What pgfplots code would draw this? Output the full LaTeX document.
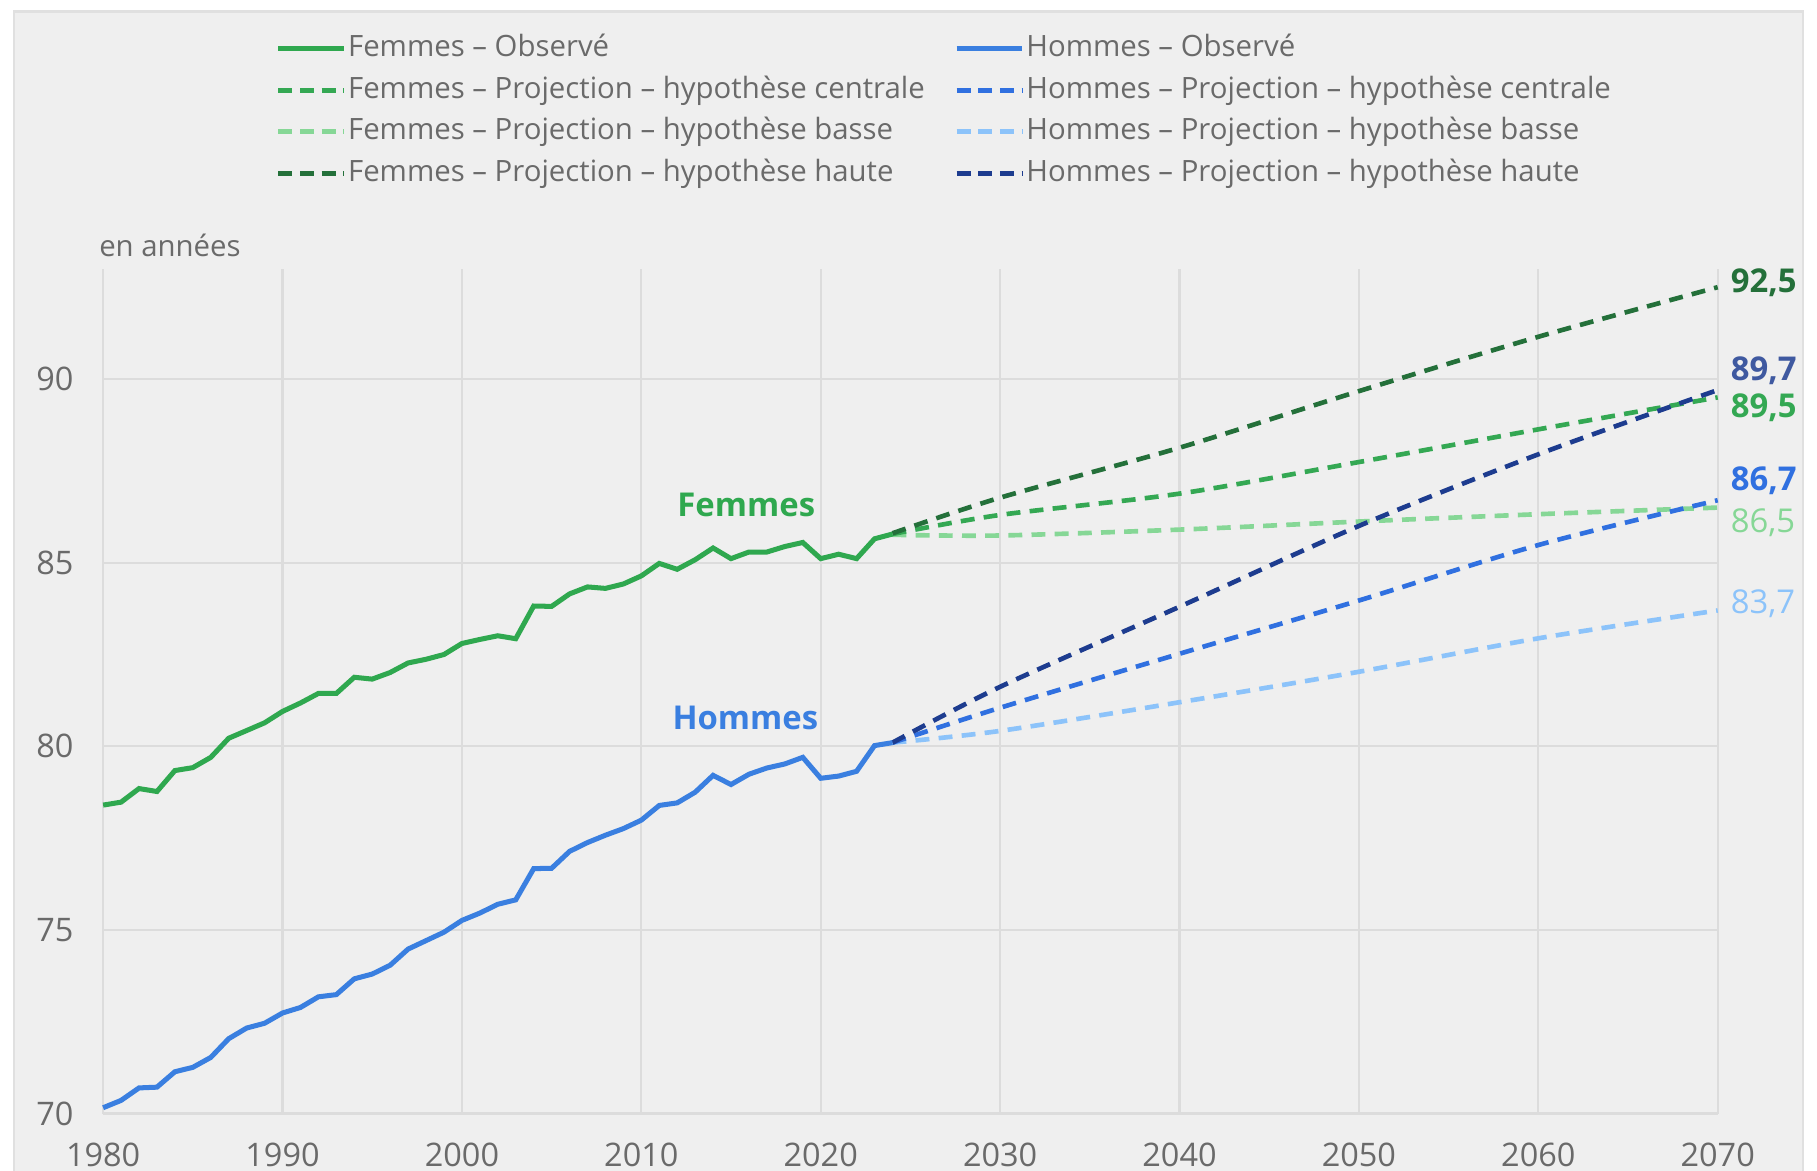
\documentclass[border=0pt]{standalone}
\usepackage{pgfplots}
\pgfplotsset{compat=1.18}
\usepackage{fontspec}
\setmainfont{Open Sans}
\definecolor{bgcol}{HTML}{EFEFEF}
\definecolor{bordcol}{HTML}{E0E0E0}
\definecolor{gridcol}{HTML}{DCDCDC}
\definecolor{txtgray}{HTML}{6A6A6A}
\definecolor{fobs}{HTML}{2FA84F}
\definecolor{fcen}{HTML}{34A853}
\definecolor{fbas}{HTML}{86D796}
\definecolor{fhau}{HTML}{24703A}
\definecolor{hobs}{HTML}{3A7FE0}
\definecolor{hcen}{HTML}{3070E0}
\definecolor{hbas}{HTML}{8CC3FA}
\definecolor{hhau}{HTML}{1D3C8F}

\pgfplotstableread{
year f h
1980 78.40 70.16
1981 78.48 70.36
1982 78.85 70.70
1983 78.77 70.72
1984 79.34 71.14
1985 79.42 71.26
1986 79.70 71.53
1987 80.22 72.04
1988 80.43 72.33
1989 80.64 72.46
1990 80.95 72.74
1991 81.18 72.89
1992 81.44 73.18
1993 81.44 73.24
1994 81.88 73.67
1995 81.83 73.80
1996 82.01 74.04
1997 82.27 74.48
1998 82.37 74.71
1999 82.50 74.94
2000 82.80 75.26
2001 82.91 75.46
2002 83.01 75.70
2003 82.93 75.82
2004 83.82 76.67
2005 83.81 76.68
2006 84.15 77.14
2007 84.34 77.38
2008 84.30 77.58
2009 84.42 77.76
2010 84.64 77.99
2011 84.98 78.39
2012 84.82 78.46
2013 85.08 78.75
2014 85.40 79.21
2015 85.11 78.96
2016 85.29 79.24
2017 85.29 79.41
2018 85.44 79.52
2019 85.55 79.70
2020 85.11 79.13
2021 85.23 79.19
2022 85.11 79.32
2023 85.65 80.02
2024 85.78 80.10
}\obs

\pgfplotstableread{
year fcen fbas fhau
2024 85.78 85.76 85.80
2030 86.30 85.74 86.77
2040 86.88 85.90 88.13
2050 87.74 86.12 89.67
2060 88.63 86.32 91.15
2070 89.50 86.50 92.50
}\projf

\pgfplotstableread{
year hcen hbas hhau
2024 80.10 80.10 80.10
2030 81.05 80.42 81.62
2040 82.52 81.20 83.80
2050 83.97 82.03 86.00
2060 85.48 82.94 87.95
2070 86.70 83.70 89.70
}\projh

\begin{document}
\begin{tikzpicture}
\fill[bgcol, draw=bordcol, line width=0.6pt] (-23.1pt,-20pt) rectangle (440.1pt,285.3pt);
\begin{axis}[
  at={(0,0)}, anchor=south west,
  scale only axis, width=418pt, height=218.7pt,
  xmin=1980, xmax=2070, ymin=70, ymax=93,
  xtick={1980,1990,...,2070}, ytick={70,75,80,85,90},
  axis line style={draw=none},
  major tick length=0pt,
  tick style={draw=none},
  grid=major, major grid style={gridcol, line width=0.6pt},
  clip=false,
  /pgf/number format/assume math mode=true,
  /pgf/number format/set thousands separator={},
  ticklabel style={font=\fontsize{8.4}{10}\selectfont, text=txtgray, inner sep=0pt},
  yticklabel style={anchor=east, xshift=-7.5pt},
  xticklabel style={anchor=north, yshift=-7.5pt},
  legend columns=2,
  legend cell align=left,
  legend style={at={(0.107,1.279)}, anchor=north west, draw=none, fill=none,
    inner sep=0pt, outer sep=0pt,
    font=\fontsize{7.6}{9}\selectfont, text=txtgray,
    row sep=2.9pt,
    nodes={inner xsep=0.4pt, inner ysep=0pt, text height=6pt, text depth=1.9pt},
    /tikz/every even column/.append style={column sep=7.2pt}},
  legend image code/.code={\draw[#1] (0pt,0pt) -- (17pt,0pt);},
]
\addlegendimage{fobs, line width=1.3pt}
\addlegendentry{Femmes – Observé}
\addlegendimage{hobs, line width=1.3pt}
\addlegendentry{Hommes – Observé}
\addlegendimage{fcen, line width=1.3pt, dash pattern=on 3.6pt off 2pt}
\addlegendentry{Femmes – Projection – hypothèse centrale}
\addlegendimage{hcen, line width=1.3pt, dash pattern=on 3.6pt off 2pt}
\addlegendentry{Hommes – Projection – hypothèse centrale}
\addlegendimage{fbas, line width=1.3pt, dash pattern=on 3.6pt off 2pt}
\addlegendentry{Femmes – Projection – hypothèse basse}
\addlegendimage{hbas, line width=1.3pt, dash pattern=on 3.6pt off 2pt}
\addlegendentry{Hommes – Projection – hypothèse basse}
\addlegendimage{fhau, line width=1.3pt, dash pattern=on 3.6pt off 2pt}
\addlegendentry{Femmes – Projection – hypothèse haute}
\addlegendimage{hhau, line width=1.3pt, dash pattern=on 3.6pt off 2pt}
\addlegendentry{Hommes – Projection – hypothèse haute}

\addplot[forget plot, smooth, fbas, line width=1.2pt, dash pattern=on 3.6pt off 2.4pt] table[x=year, y=fbas] {\projf};
\addplot[forget plot, smooth, fcen, line width=1.2pt, dash pattern=on 3.6pt off 2.4pt] table[x=year, y=fcen] {\projf};
\addplot[forget plot, smooth, fhau, line width=1.2pt, dash pattern=on 3.6pt off 2.4pt] table[x=year, y=fhau] {\projf};
\addplot[forget plot, smooth, hbas, line width=1.2pt, dash pattern=on 3.6pt off 2.4pt] table[x=year, y=hbas] {\projh};
\addplot[forget plot, smooth, hcen, line width=1.2pt, dash pattern=on 3.6pt off 2.4pt] table[x=year, y=hcen] {\projh};
\addplot[forget plot, smooth, hhau, line width=1.2pt, dash pattern=on 3.6pt off 2.4pt] table[x=year, y=hhau] {\projh};
\addplot[forget plot, fobs, line width=1.3pt] table[x=year, y=f] {\obs};
\addplot[forget plot, hobs, line width=1.3pt] table[x=year, y=h] {\obs};

\node[font=\fontsize{8.5}{10}\selectfont\bfseries, text=fobs] at (axis cs:2015.85,86.56) {Femmes};
\node[font=\fontsize{8.5}{10}\selectfont\bfseries, text=hobs] at (axis cs:2015.8,80.76) {Hommes};

\begin{scope}[every node/.style={anchor=west, inner sep=0pt, xshift=3.2pt, font=\fontsize{8.5}{10}\selectfont}]
\node[text=fhau, font=\fontsize{8.5}{10}\selectfont\bfseries] at (axis cs:2070,92.62) {92,5};
\node[text=hhau!85!white, font=\fontsize{8.5}{10}\selectfont\bfseries] at (axis cs:2070,90.22) {89,7};
\node[text=fcen, font=\fontsize{8.5}{10}\selectfont\bfseries] at (axis cs:2070,89.21) {89,5};
\node[text=hcen, font=\fontsize{8.5}{10}\selectfont\bfseries] at (axis cs:2070,87.22) {86,7};
\node[text=fbas] at (axis cs:2070,86.09) {86,5};
\node[text=hbas] at (axis cs:2070,83.88) {83,7};
\end{scope}

\node[anchor=west, inner sep=0pt, text=txtgray, font=\fontsize{7.6}{9}\selectfont] at ([xshift=-1.2pt, yshift=6pt]rel axis cs:0,1) {en années};
\end{axis}
\pgfresetboundingbox
\path (-26.7pt,-14.7pt) rectangle (443.7pt,288.3pt);
\end{tikzpicture}
\end{document}
